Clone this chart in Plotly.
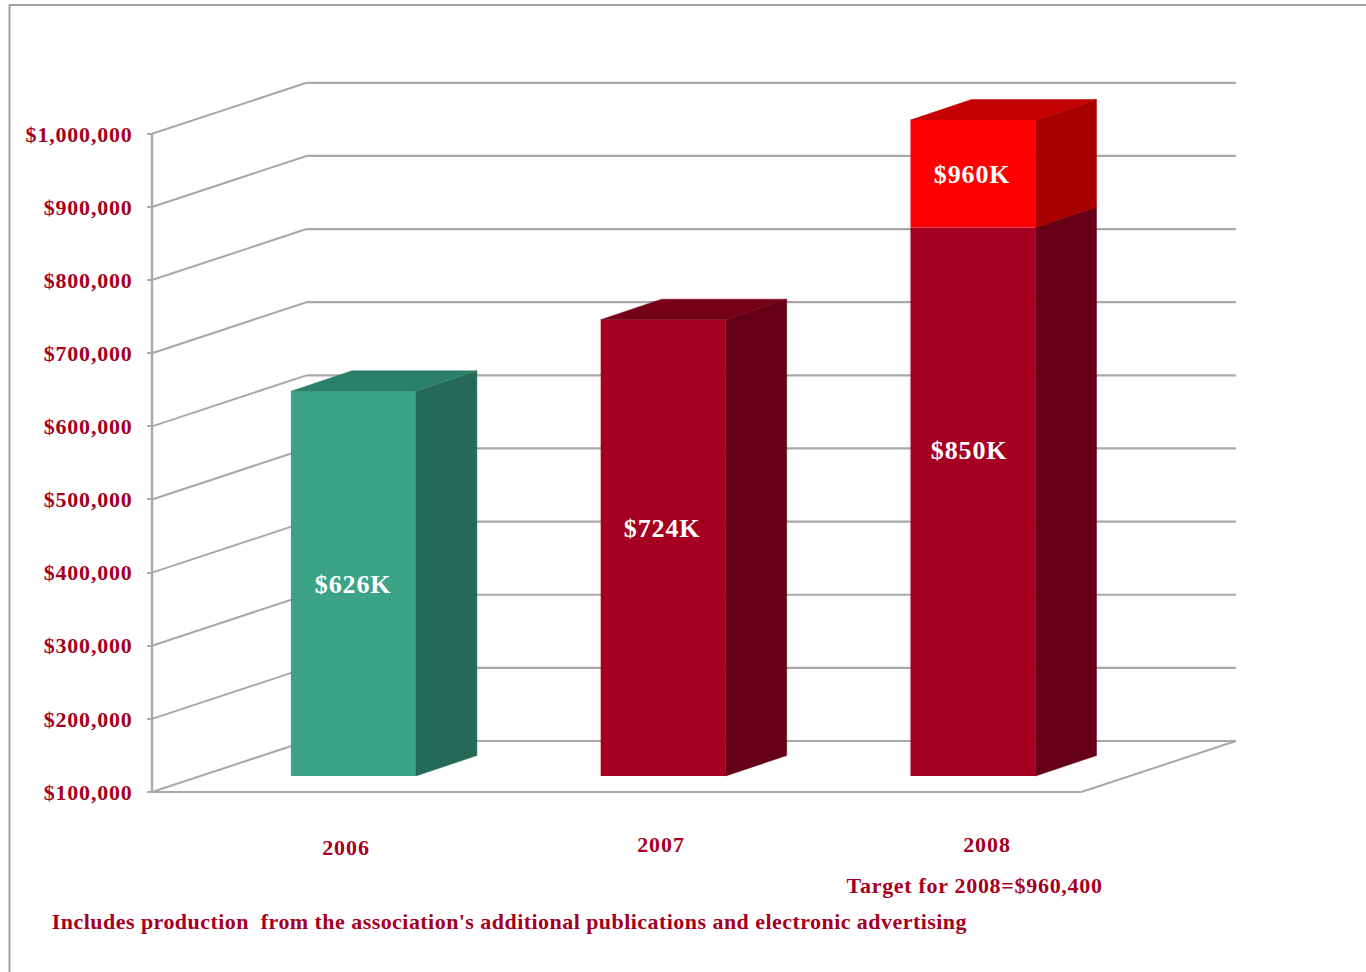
import plotly.graph_objects as go

# ---- data ----
years = ["2006", "2007", "2008"]
year_pos = [0, 1, 2]
actual = [626000, 724000, 850000]
target_top = 997000            # drawn top of the red 2008 block
value_labels = ["$626K", "$724K", "$850K"]
target_label = "$960K"
axis_ticks = [100000, 200000, 300000, 400000, 500000, 600000, 700000, 800000, 900000, 1000000]
floor_value = 100000

FONT = "Liberation Serif"
RED_TEXT = "#A50021"
GRID = "#A8A8A8"

W, H = 1366, 972
PX_X = 309.8           # pixels per category
PX_Y = 658.2 / 900000  # pixels per dollar


def dy(px):
    return px / PX_Y


def dx(px):
    return px / PX_X


# depth of the chart box and of the bars, in axis units
WALL_X, WALL_Y = dx(154.5), dy(51)
BAR_X, BAR_Y = dx(61), dy(20.5)
FRONT_X, FRONT_Y = dx(46.5), dy(16)
BAR_W = dx(125)

fig = go.Figure()

# front faces
fig.add_trace(go.Bar(
    x=[p + FRONT_X for p in year_pos],
    y=[v - floor_value for v in actual],
    base=[floor_value + FRONT_Y] * 3,
    width=BAR_W,
    marker=dict(color=["#3CA386", "#A50021", "#A50021"], line=dict(width=0)),
    hoverinfo="skip", showlegend=False,
))
fig.add_trace(go.Bar(
    x=[year_pos[2] + FRONT_X],
    y=[target_top - actual[2]],
    base=[actual[2] + FRONT_Y],
    width=BAR_W,
    marker=dict(color="#FF0000", line=dict(width=0)),
    hoverinfo="skip", showlegend=False,
))


def poly(xs, ys, color):
    fig.add_trace(go.Scatter(
        x=xs, y=ys, mode="lines", fill="toself", fillcolor=color,
        line=dict(width=0.5, color=color), hoverinfo="skip", showlegend=False,
    ))


def side(pos, low, high, color):
    r = pos + FRONT_X + BAR_W / 2
    lo, hi = low + FRONT_Y, high + FRONT_Y
    poly([r, r + BAR_X, r + BAR_X, r, r],
         [lo, lo + BAR_Y, hi + BAR_Y, hi, lo], color)


def top(pos, value, color):
    c = pos + FRONT_X
    l, r = c - BAR_W / 2, c + BAR_W / 2
    v = value + FRONT_Y
    poly([l, r, r + BAR_X, l + BAR_X, l], [v, v, v + BAR_Y, v + BAR_Y, v], color)


side(year_pos[0], floor_value, actual[0], "#256A56")
top(year_pos[0], actual[0], "#2B8068")
side(year_pos[1], floor_value, actual[1], "#650016")
top(year_pos[1], actual[1], "#760019")
side(year_pos[2], floor_value, actual[2], "#650016")
side(year_pos[2], actual[2], target_top, "#A80000")
top(year_pos[2], target_top, "#C40000")

# chart box: walls and floor, behind the bars
x_left = -0.5
x_right = 2.5
shapes = []


def seg(x0, y0, x1, y1, width=2.0):
    shapes.append(dict(type="line", xref="x", yref="y", x0=x0, y0=y0, x1=x1, y1=y1,
                       layer="below", line=dict(color=GRID, width=width)))


for t in axis_ticks:
    seg(x_left, t, x_left + WALL_X, t + WALL_Y, 2.0)
    seg(x_left + WALL_X, t + WALL_Y, x_right + WALL_X, t + WALL_Y, 2.2)
seg(x_left, floor_value, x_right, floor_value, 2.0)
seg(x_right, floor_value, x_right + WALL_X, floor_value + WALL_Y, 2.0)
seg(x_left, axis_ticks[0], x_left, axis_ticks[-1], 2.4)

# page frame
shapes.append(dict(type="line", xref="paper", yref="paper", x0=9.5 / W, x1=9.5 / W,
                   y0=0, y1=1 - 5 / H, layer="below", line=dict(color="#A0A0A0", width=2)))
shapes.append(dict(type="line", xref="paper", yref="paper", x0=9 / W, x1=1,
                   y0=1 - 5 / H, y1=1 - 5 / H, layer="below", line=dict(color="#A0A0A0", width=2)))


def bold(size, color):
    return dict(family=FONT, size=size, color=color, weight=700)


annotations = []


def label_page(text, px, py, size, color=RED_TEXT):
    annotations.append(dict(text=text, xref="paper", yref="paper", x=px / W, y=1 - py / H,
                            xanchor="center", yanchor="middle", showarrow=False,
                            font=bold(size, color)))


# value labels
label_page(value_labels[0], 353, 584, 26, "#FFFFFF")
label_page(value_labels[1], 662, 528, 26, "#FFFFFF")
label_page(value_labels[2], 969, 450, 26, "#FFFFFF")
label_page(target_label, 972, 174, 26, "#FFFFFF")

# category labels
label_page(years[0], 346, 847, 22)
label_page(years[1], 661, 844, 22)
label_page(years[2], 987, 844, 22)

label_page("Target for 2008=$960,400", 974, 885, 22)
label_page("Includes production  from the association's additional publications and electronic advertising",
           509.5, 921, 22)

# the plot area reaches a few pixels past the floor and the axis so those lines are not clipped
PAD = 4
x_dom = [(152 - PAD) / W, 1240 / W]
y_dom = [1 - (792 + PAD) / H, 1 - 60 / H]

fig.update_layout(
    width=W, height=H,
    margin=dict(l=0, r=0, t=0, b=0),
    paper_bgcolor="white", plot_bgcolor="white",
    barmode="overlay",
    showlegend=False,
    shapes=shapes,
    annotations=annotations,
    xaxis=dict(domain=x_dom, range=[x_left - dx(PAD), x_left + (1240 - 152) / PX_X],
               showgrid=False, zeroline=False, showticklabels=False, ticks="",
               showline=False),
    yaxis=dict(domain=y_dom, range=[floor_value - dy(PAD), floor_value + (792 - 60) / PX_Y],
               anchor="free", position=152 / W,
               tickmode="array", tickvals=axis_ticks,
               tickformat="$,.0f", tickfont=bold(22, RED_TEXT),
               ticks="outside", ticklen=5, tickwidth=2, tickcolor=GRID,
               showgrid=False, zeroline=False, automargin=False,
               showline=False, ticklabelstandoff=10),
)

# the reference text is set slightly wider than the font's natural advance
post = """
document.body.style.margin='0';
document.querySelectorAll('.ytick text').forEach(function(t){t.style.letterSpacing='0.8px';});
document.querySelectorAll('.annotation-text').forEach(function(t){
  var n=t.textContent.length;
  t.style.letterSpacing=(n>40?'0.45px':(n>10?'0.7px':'0.9px'));
});
"""

fig.write_html("out.html", post_script=post, config={"displayModeBar": False})
